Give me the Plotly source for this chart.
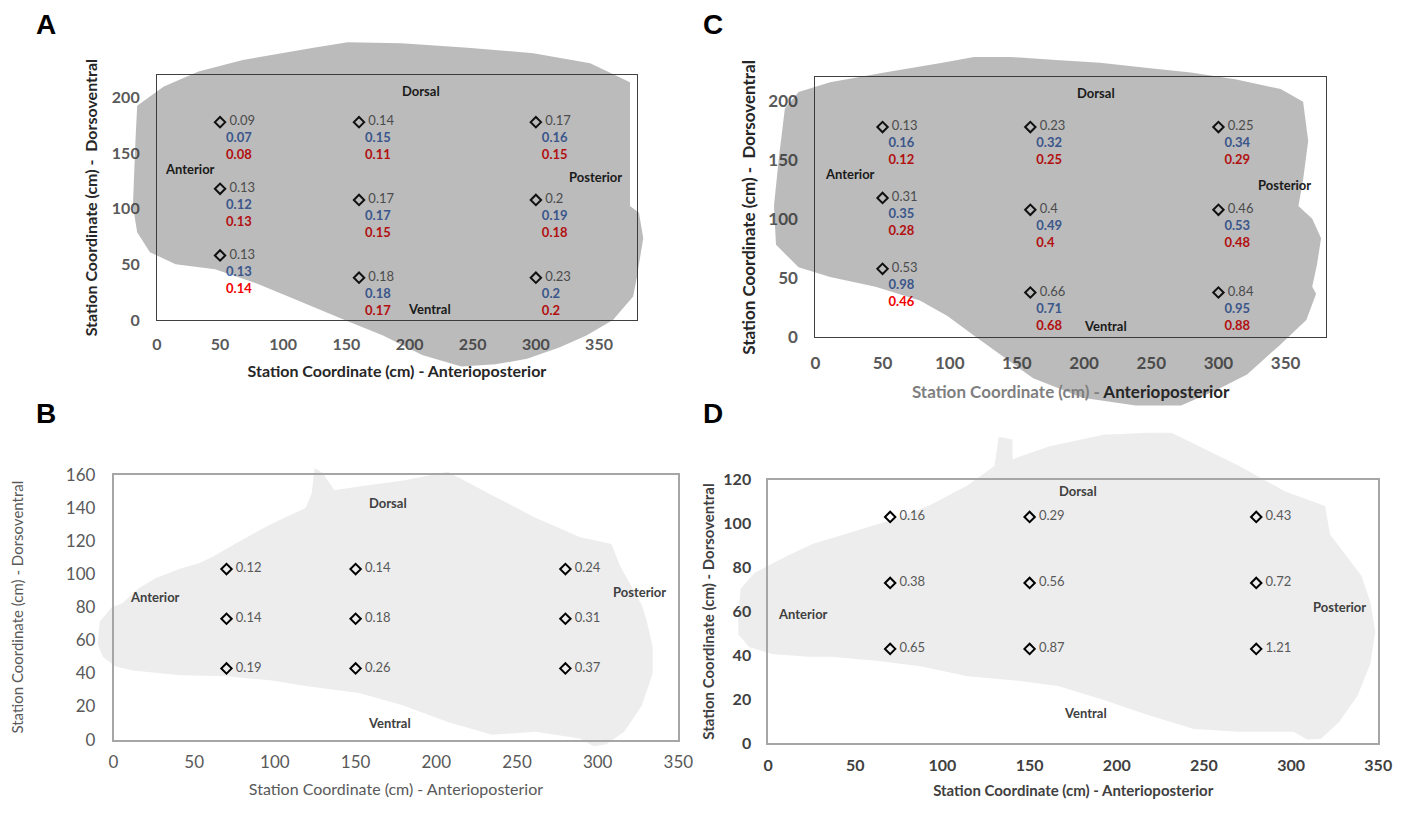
"""
Four-panel station map: values at nine stations drawn over a faded
outline of the specimen (panels A-D).
"""

import plotly.graph_objects as go

# ------------------------------------------------------------
# Data
# ------------------------------------------------------------
# station coordinates (cm)
AC_X = [50, 50, 50, 160, 160, 160, 300, 300, 300]
AC_Y = [178, 118, 58, 178, 108, 38, 178, 108, 38]
BD_X = [70, 70, 70, 150, 150, 150, 280, 280, 280]
BD_Y = [103, 73, 43, 103, 73, 43, 103, 73, 43]

# panel A: three values per station (gray / blue / red)
A_GRAY = [0.09, 0.13, 0.13, 0.14, 0.17, 0.18, 0.17, 0.20, 0.23]
A_BLUE = [0.07, 0.12, 0.13, 0.15, 0.17, 0.18, 0.16, 0.19, 0.20]
A_RED = [0.08, 0.13, 0.14, 0.11, 0.15, 0.17, 0.15, 0.18, 0.20]

# panel C
C_GRAY = [0.13, 0.31, 0.53, 0.23, 0.40, 0.66, 0.25, 0.46, 0.84]
C_BLUE = [0.16, 0.35, 0.98, 0.32, 0.49, 0.71, 0.34, 0.53, 0.95]
C_RED = [0.12, 0.28, 0.46, 0.25, 0.40, 0.68, 0.29, 0.48, 0.88]

# panels B and D: one value per station
B_VALS = [0.12, 0.14, 0.19, 0.14, 0.18, 0.26, 0.24, 0.31, 0.37]
D_VALS = [0.16, 0.38, 0.65, 0.29, 0.56, 0.87, 0.43, 0.72, 1.21]

# orientation labels
REGION_LABELS = ["Dorsal", "Anterior", "Posterior", "Ventral"]
A_LABEL_X = [209, 26, 347, 216]
A_LABEL_Y = [206, 136, 129, 10]
C_LABEL_X = [209, 26, 349, 216]
C_LABEL_Y = [207, 138, 129, 10]
B_LABEL_X = [170, 26, 326, 171]
B_LABEL_Y = [143, 86, 89, 10]
D_LABEL_X = [178, 20, 328, 182]
D_LABEL_Y = [115, 59, 62, 14]

# specimen outlines (cm, in each panel's axis units)
A_SIL_X = [-17, -15.6, 5.5, 33, 68, 124, 151, 193.5, 246, 298, 343, 374.5,
           374.5, 381.6, 385, 381.6, 380, 377, 361, 340, 319, 293, 268, 241,
           210, 179, 150.6, 111.6, 80, 46, 14.8, -5.5, -15.6, -19]
A_SIL_Y = [161, 192.8, 210, 223.5, 234, 245, 250, 249, 245, 240, 231, 214,
           102.5, 96.4, 73.6, 50, 38.6, 21, 0, -14, -24.5, -35, -40, -42,
           -31.6, -14, -1, 17.5, 32.4, 45.6, 50, 61, 79, 102.6]

C_SIL_X = [-22.7, -12.5, 11, 51.4, 94.6, 118, 145, 179, 212, 245.8, 279.5,
           312.5, 346.3, 363, 366.8, 363, 359.5, 369.8, 376.4, 373.4, 369.8,
           372.7, 365.4, 345.6, 321.3, 297.1, 272.2, 238.4, 198.8, 162.1,
           118, 98.3, 77.8, 44.8, 11, -12.5, -29.3, -30.8, -27.1]
C_SIL_Y = [193.6, 207.6, 215.9, 224.1, 232.4, 237.3, 237.3, 234.8, 232.4,
           228.2, 224.1, 218.4, 210.1, 199.4, 166.4, 133.5, 111.2, 100.5, 84,
           61.8, 42.8, 37, 14.8, -6.6, -31.3, -45.3, -57.7, -57.7, -51.1,
           -34.6, 1.6, 18.1, 31.3, 42.8, 51.1, 59.3, 78.3, 111.2, 152.4]

B_SIL_X = [-9.8, -8.6, -1.2, 5.5, 15.3, 26.3, 42.1, 53.1, 61.7, 75.1, 97.1,
           119.1, 122.8, 124.6, 129.5, 136.8, 152.1, 179.6, 207.1, 234.6,
           261.4, 288.9, 308.5, 314, 327.4, 330.5, 334.1, 334.1, 327.4, 316.4,
           305.4, 297.5, 288.9, 261.4, 234.6, 207.1, 179.6, 152.1, 119.1, 97.1,
           69.6, 42.1, 28.7, 12.2, 1.2, -6.7]
B_SIL_Y = [57.6, 71.2, 80, 82.4, 91.2, 97.6, 103.5, 106.5, 110.6, 118.2, 130,
           140, 148.8, 164.1, 161.2, 150.6, 152.9, 156.5, 161.8, 147.6, 134.1,
           122.4, 118.2, 104.7, 81.2, 71.2, 55.9, 40, 20.6, 4.7, -2.9, -4.1,
           0.6, 4.7, 2.9, 10.6, 20.6, 28.2, 32.4, 35.9, 38.2, 38.8, 40, 41.8,
           44.1, 50]

D_SIL_X = [-17.1, -15.8, -7.9, 10.2, 25.8, 44, 57, 75.2, 93.3, 114.2, 129.8,
           132.3, 140.2, 140.2, 161, 192.2, 218.3, 231.3, 270.3, 296.3, 319.5,
           322.3, 340.4, 345.5, 348.3, 345.5, 338.1, 327.4, 317.2, 309.3,
           301.4, 270.3, 244.3, 218.3, 192.2, 166.2, 140.2, 114.2, 88.2, 62.2,
           36.2, 23.2, 2.3, -10.7, -17.1]
D_SIL_Y = [58.5, 70.4, 77.5, 85, 90.8, 95.2, 98.3, 102.7, 108.5, 117.3, 126.2,
           139.5, 138.2, 129.3, 135.1, 140.4, 141.3, 141.3, 126.2, 114.7, 108,
           95.2, 76.2, 64.2, 50.9, 36.3, 21.7, 9.7, 2.2, 1.8, 5.3, 5.3, 6.6,
           12.8, 19.9, 26.1, 28.8, 30.6, 35, 37.6, 39.4, 39.4, 40.7, 43.8,
           49.6]

X_TITLE = "Station Coordinate (cm) - Anterioposterior"
Y_TITLE = "Station Coordinate (cm) - Dorsoventral"

# ------------------------------------------------------------
# Styling
# ------------------------------------------------------------
FONT = "Lato, 'Open Sans', sans-serif"
GRAY_TXT = "#595959"
BLUE_TXT = "#4169B8"
RED_TXT = "#F20000"

# the page body keeps its default 8px margin, so the figure is 16px smaller
FIG_W, FIG_H = 1401, 801

PANELS = {
    "A": dict(xa="x", ya="y", xr=[0, 380], yr=[0, 220], ydt=50,
              xdom=[0.1042, 0.4518], ydom=[0.6142, 0.9276]),
    "B": dict(xa="x2", ya="y2", xr=[0, 350], yr=[0, 160], ydt=20,
              xdom=[0.0728, 0.4818], ydom=[0.0762, 0.4157]),
    "C": dict(xa="x3", ya="y3", xr=[0, 380], yr=[0, 220], ydt=50,
              xdom=[0.5810, 0.9507], ydom=[0.5918, 0.9251]),
    "D": dict(xa="x4", ya="y4", xr=[0, 350], yr=[0, 120], ydt=20,
              xdom=[0.5468, 0.9886], ydom=[0.0712, 0.4095]),
}


def fmt(v):
    return f"{v:g}"


def triple_text(gray, blue, red):
    # two blank lines on top so the first value sits level with the marker
    out = []
    for g, b, r in zip(gray, blue, red):
        out.append(
            "\u00a0<br>\u00a0<br>\u00a0" + fmt(g)
            + f"<br><span style='color:{BLUE_TXT}'><b>{fmt(b)}</b></span>"
            + f"<br><span style='color:{RED_TXT}'><b>{fmt(r)}</b></span>"
        )
    return out


def outline_path(xs, ys, xr, yr):
    pts = []
    for x, y in zip(xs, ys):
        fx = (x - xr[0]) / (xr[1] - xr[0])
        fy = (y - yr[0]) / (yr[1] - yr[0])
        pts.append(f"{fx:.4f},{fy:.4f}")
    return "M" + " L".join(pts) + " Z"


fig = go.Figure()

# ------------------------------------------------------------
# Markers and values
# ------------------------------------------------------------
for key, gray, blue, red in [("A", A_GRAY, A_BLUE, A_RED),
                             ("C", C_GRAY, C_BLUE, C_RED)]:
    p = PANELS[key]
    fig.add_trace(go.Scatter(
        x=AC_X, y=AC_Y, xaxis=p["xa"], yaxis=p["ya"],
        mode="markers+text",
        marker=dict(symbol="diamond-open", size=8, color="black",
                    line=dict(width=2, color="black")),
        text=triple_text(gray, blue, red),
        textposition="middle right",
        textfont=dict(family=FONT, size=13, color=GRAY_TXT),
        cliponaxis=False, showlegend=False, hoverinfo="skip",
    ))

for key, vals in [("B", B_VALS), ("D", D_VALS)]:
    p = PANELS[key]
    fig.add_trace(go.Scatter(
        x=BD_X, y=BD_Y, xaxis=p["xa"], yaxis=p["ya"],
        mode="markers+text",
        marker=dict(symbol="diamond-open", size=8, color="black",
                    line=dict(width=2, color="#1a1a1a")),
        text=["\u00a0" + fmt(v) for v in vals],
        textposition="middle right",
        textfont=dict(family=FONT, size=13, color=GRAY_TXT),
        cliponaxis=False, showlegend=False, hoverinfo="skip",
    ))

# ------------------------------------------------------------
# Specimen outlines
# ------------------------------------------------------------
for key, xs, ys in [("A", A_SIL_X, A_SIL_Y), ("C", C_SIL_X, C_SIL_Y)]:
    p = PANELS[key]
    fig.add_shape(
        type="path", path=outline_path(xs, ys, p["xr"], p["yr"]),
        xref=p["xa"] + " domain", yref=p["ya"] + " domain",
        fillcolor="rgba(50,50,50,0.33)", line=dict(width=0), layer="above",
    )

for key, xs, ys in [("B", B_SIL_X, B_SIL_Y), ("D", D_SIL_X, D_SIL_Y)]:
    p = PANELS[key]
    fig.add_shape(
        type="path", path=outline_path(xs, ys, p["xr"], p["yr"]),
        xref=p["xa"] + " domain", yref=p["ya"] + " domain",
        fillcolor="#ededed", line=dict(width=0), layer="below",
    )

# ------------------------------------------------------------
# Orientation labels
# ------------------------------------------------------------
for key, lx, ly, col in [("A", A_LABEL_X, A_LABEL_Y, "#1a1a1a"),
                         ("C", C_LABEL_X, C_LABEL_Y, "#1a1a1a"),
                         ("B", B_LABEL_X, B_LABEL_Y, "#404040"),
                         ("D", D_LABEL_X, D_LABEL_Y, "#404040")]:
    p = PANELS[key]
    for name, x, y in zip(REGION_LABELS, lx, ly):
        fig.add_annotation(
            x=x, y=y, xref=p["xa"], yref=p["ya"], text=f"<b>{name}</b>",
            showarrow=False, xanchor="center", yanchor="middle",
            font=dict(family=FONT, size=13, color=col),
        )

# panel letters
for letter, lx, ly in [("A", 0.0236, 0.9925), ("C", 0.5068, 0.9925),
                       ("B", 0.0236, 0.4944), ("D", 0.5068, 0.4944)]:
    fig.add_annotation(
        x=lx, y=ly, xref="paper", yref="paper", text=f"<b>{letter}</b>",
        showarrow=False, xanchor="center", yanchor="middle",
        font=dict(family="Liberation Sans, Arial, sans-serif", size=28,
                  color="black"),
    )

# ------------------------------------------------------------
# Axes
# ------------------------------------------------------------
axis_style = {
    "A": dict(line="#404040", lw=1, tick=dict(size=16, color=GRAY_TXT, weight="bold"),
              xt=dict(text=X_TITLE, font=dict(size=16, color="#262626", weight="bold"), standoff=13),
              yt=dict(text="Station Coordinate (cm) -  Dorsoventral",
                      font=dict(size=16, color="#262626", weight="bold"), standoff=10),
              xlen=10, ylen=13),
    "B": dict(line="#a6a6a6", lw=1.5, tick=dict(size=17, color=GRAY_TXT),
              xt=dict(text=X_TITLE, font=dict(size=16, color=GRAY_TXT), standoff=13),
              yt=dict(text=Y_TITLE, font=dict(size=15, color=GRAY_TXT), standoff=45),
              xlen=6, ylen=13),
    "C": dict(line="#404040", lw=1, tick=dict(size=17, color=GRAY_TXT, weight="bold"),
              xt=dict(text="<span style='color:#7f7f7f'>Station Coordinate (cm) -</span> Anterioposterior",
                      font=dict(size=17, color="#262626", weight="bold"), standoff=14),
              yt=dict(text="Station Coordinate (cm) -  Dorsoventral",
                      font=dict(size=17, color="#262626", weight="bold"), standoff=8),
              xlen=10, ylen=13),
    "D": dict(line="#a6a6a6", lw=1.5, tick=dict(size=16, color="#404040", weight="bold"),
              xt=dict(text=X_TITLE, font=dict(size=15, color="#404040", weight="bold"), standoff=12),
              yt=dict(text=Y_TITLE, font=dict(size=15, color="#404040", weight="bold"), standoff=5),
              xlen=7, ylen=12),
}

layout_axes = {}
for key, p in PANELS.items():
    s = axis_style[key]
    xname = "xaxis" + p["xa"][1:]
    yname = "yaxis" + p["ya"][1:]
    tickfont = dict(family=FONT, **s["tick"])
    xt = dict(s["xt"])
    xt["font"] = dict(family=FONT, **xt["font"])
    yt = dict(s["yt"])
    yt["font"] = dict(family=FONT, **yt["font"])
    layout_axes[xname] = dict(
        domain=p["xdom"], range=p["xr"], dtick=50, tick0=0,
        anchor=p["ya"], showgrid=False, zeroline=False,
        showline=True, mirror=True, linecolor=s["line"], linewidth=s["lw"],
        ticks="outside", ticklen=s["xlen"], tickcolor="rgba(0,0,0,0)",
        tickfont=tickfont, title=xt, fixedrange=True,
    )
    layout_axes[yname] = dict(
        domain=p["ydom"], range=p["yr"], dtick=p["ydt"], tick0=0,
        anchor=p["xa"], showgrid=False, zeroline=False,
        showline=True, mirror=True, linecolor=s["line"], linewidth=s["lw"],
        ticks="outside", ticklen=s["ylen"], tickcolor="rgba(0,0,0,0)",
        tickfont=tickfont, title=yt, fixedrange=True,
    )

fig.update_layout(
    width=FIG_W, height=FIG_H,
    margin=dict(l=0, r=0, t=0, b=0),
    paper_bgcolor="white", plot_bgcolor="white",
    font=dict(family=FONT),
    showlegend=False,
    **layout_axes,
)

fig.write_html("out.html")
